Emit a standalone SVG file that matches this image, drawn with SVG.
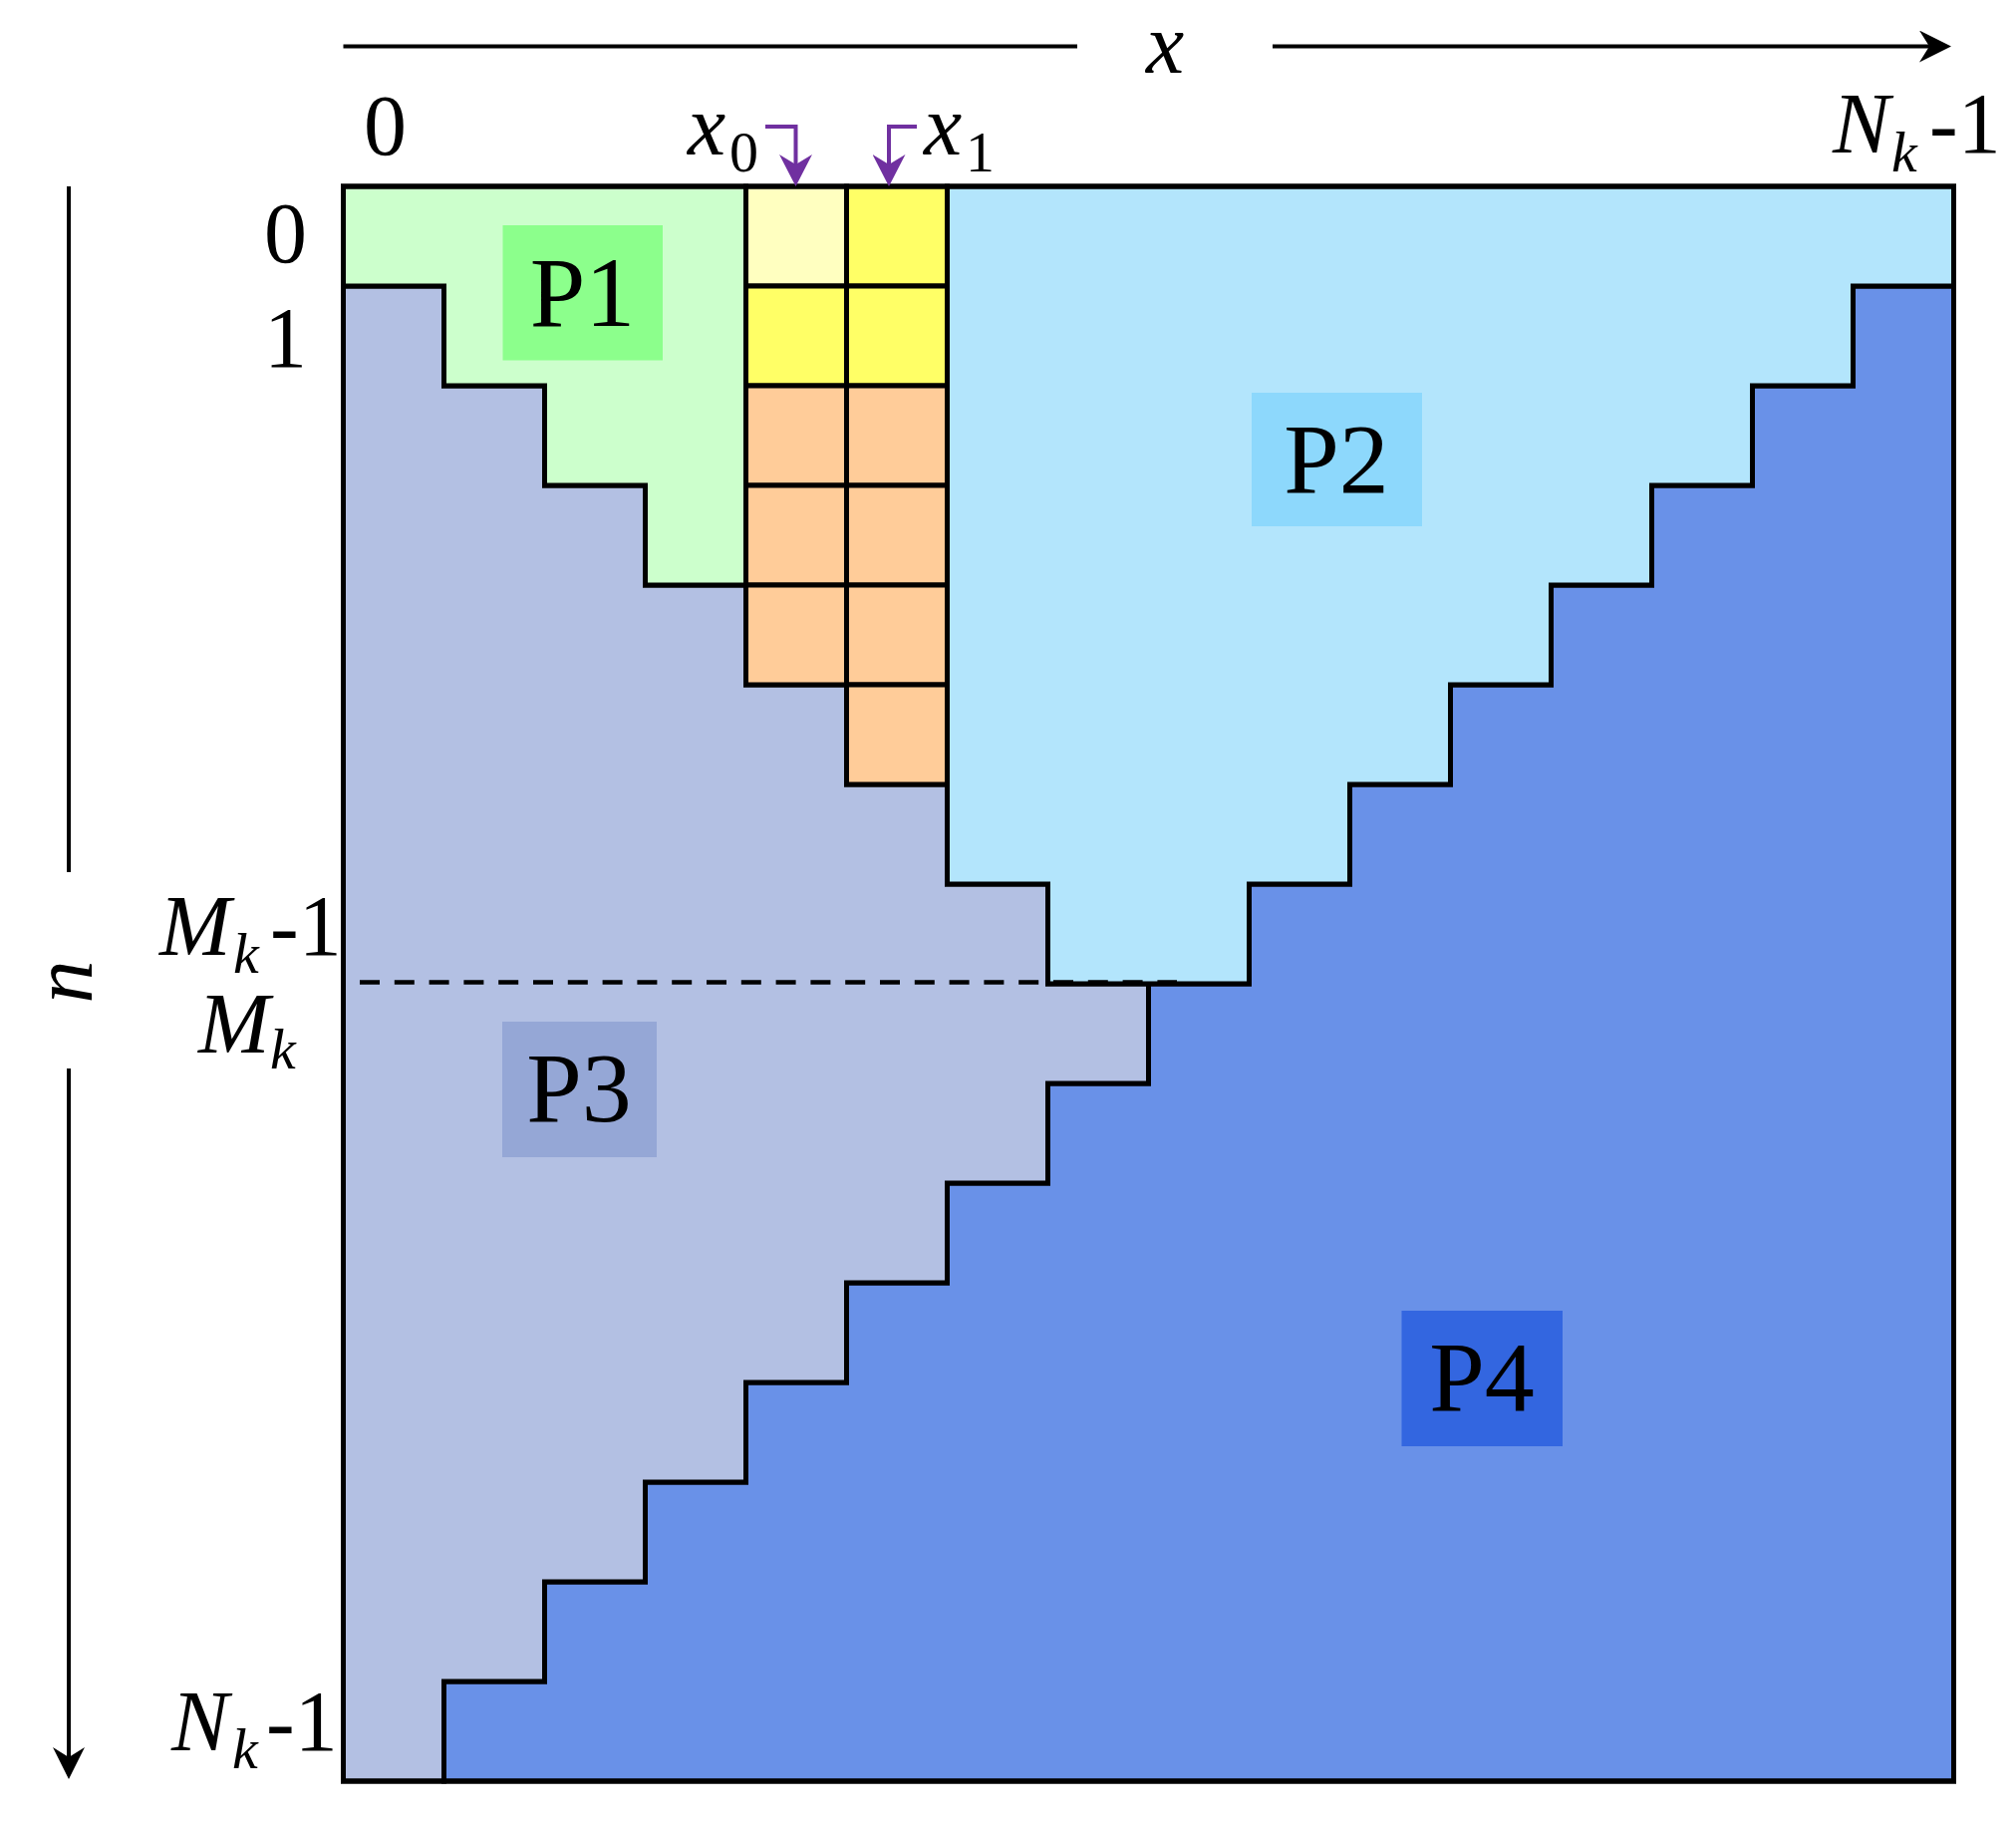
<svg xmlns="http://www.w3.org/2000/svg" width="2023" height="1833" viewBox="0 0 2023 1833">
<style>
.reg{stroke:#000;stroke-width:5;stroke-linejoin:miter}
.cell{stroke:#000;stroke-width:5}
.lbl{font-family:'Liberation Serif','DejaVu Serif',serif;font-size:100px;fill:#000;text-anchor:middle}
.m{font-family:'Liberation Serif','DejaVu Serif',serif;font-size:86px;fill:#000}
.it{font-style:italic}
.sub{font-size:58px}
.ax{stroke:#000;stroke-width:4;fill:none}
.pa{stroke:#7030A0;stroke-width:4;fill:none}
</style>
<defs>
<marker id="ahk" viewBox="0 0 32 32" refX="10" refY="16" markerWidth="32" markerHeight="32" markerUnits="userSpaceOnUse" orient="auto">
<path d="M0,0 L32,16 L0,32 L10,16 Z" fill="#000"/>
</marker>
<marker id="ahp" viewBox="0 0 32 33" refX="10" refY="16.5" markerWidth="32" markerHeight="33" markerUnits="userSpaceOnUse" orient="auto">
<path d="M0,0 L32,16.5 L0,33 L10,16.5 Z" fill="#7030A0"/>
</marker>
</defs>
<rect width="2023" height="1833" fill="#fff"/>

<g id="P4-region">
<path class="reg" fill="#6991E8" d="M1960.5,287 V1787 H445.5 V1687 H546.5 V1587 H647.5 V1487 H748.5 V1387 H849.5 V1287 H950.5 V1187 H1051.5 V1087 H1152.5 V987 H1253.5 V887 H1354.5 V787 H1455.5 V687 H1556.5 V587 H1657.5 V487 H1758.5 V387 H1859.5 V287 Z"/>
</g>
<g id="P3-region">
<path class="reg" fill="#B3C0E3" d="M344.5,287 H445.5 V387 H546.5 V487 H647.5 V587 H748.5 V687 H849.5 V787 H950.5 V887 H1051.5 V987 H1152.5 V1087 H1051.5 V1187 H950.5 V1287 H849.5 V1387 H748.5 V1487 H647.5 V1587 H546.5 V1687 H445.5 V1787 H344.5 Z"/>
</g>
<g id="P2-region">
<path class="reg" fill="#B3E5FC" d="M950.5,187 H1960.5 V287 H1859.5 V387 H1758.5 V487 H1657.5 V587 H1556.5 V687 H1455.5 V787 H1354.5 V887 H1253.5 V987 H1051.5 V887 H950.5 Z"/>
</g>
<g id="P1-region">
<path class="reg" fill="#CCFFCC" d="M344.5,187 H748.5 V587 H647.5 V487 H546.5 V387 H445.5 V287 H344.5 Z"/>
</g>
<g id="cells">
<rect class="cell" x="748.5" y="187" width="101" height="100" fill="#FFFFC0"/>
<rect class="cell" x="748.5" y="287" width="101" height="100" fill="#FFFF66"/>
<rect class="cell" x="748.5" y="387" width="101" height="100" fill="#FFCC99"/>
<rect class="cell" x="748.5" y="487" width="101" height="100" fill="#FFCC99"/>
<rect class="cell" x="748.5" y="587" width="101" height="100" fill="#FFCC99"/>
<rect class="cell" x="849.5" y="187" width="101" height="100" fill="#FFFF66"/>
<rect class="cell" x="849.5" y="287" width="101" height="100" fill="#FFFF66"/>
<rect class="cell" x="849.5" y="387" width="101" height="100" fill="#FFCC99"/>
<rect class="cell" x="849.5" y="487" width="101" height="100" fill="#FFCC99"/>
<rect class="cell" x="849.5" y="587" width="101" height="100" fill="#FFCC99"/>
<rect class="cell" x="849.5" y="687" width="101" height="100" fill="#FFCC99"/>
</g>
<rect x="344.5" y="187" width="1616" height="1600" fill="none" stroke="#000" stroke-width="5"/>

<g id="dashed">
<line x1="361" y1="985.5" x2="1181" y2="985.5" stroke="#000" stroke-width="4.5" stroke-dasharray="20 14.8"/>
</g>

<g id="P1">
<rect x="504.5" y="226" width="160.5" height="135.5" fill="#8CFF8C"/>
<text class="lbl" x="584.5" y="327" font-family="Liberation Serif, DejaVu Serif, serif">P1</text>
</g>
<g id="P2">
<rect x="1256" y="394" width="171" height="134" fill="#8DD8FC"/>
<text class="lbl" x="1341" y="494" font-family="Liberation Serif, DejaVu Serif, serif">P2</text>
</g>
<g id="P3">
<rect x="504" y="1025" width="155" height="136" fill="#95A7D6"/>
<text class="lbl" x="581" y="1125" font-family="Liberation Serif, DejaVu Serif, serif">P3</text>
</g>
<g id="P4">
<rect x="1406.5" y="1315" width="161.5" height="136" fill="#3366E0"/>
<text class="lbl" x="1487" y="1415" font-family="Liberation Serif, DejaVu Serif, serif">P4</text>
</g>

<g id="connectors">
<line class="ax" x1="344.5" y1="46.5" x2="1081" y2="46.5"/>
<line class="ax" x1="1277" y1="46.5" x2="1936" y2="46.5" marker-end="url(#ahk)"/>
<line class="ax" x1="69" y1="187" x2="69" y2="875"/>
<line class="ax" x1="69" y1="1072" x2="69" y2="1763" marker-end="url(#ahk)"/>
<path class="pa" d="M768,127 H798.5 V165" marker-end="url(#ahp)"/>
<path class="pa" d="M920,127 H892 V165" marker-end="url(#ahp)"/>
</g>

<g id="labels" font-family="Liberation Serif, DejaVu Serif, serif">
<text class="m it" x="1150" y="73" font-size="82">x</text>
<text class="m" x="365" y="155">0</text>
<text class="m"><tspan class="it" x="690" y="155">x</tspan><tspan class="sub" x="732" y="172">0</tspan></text>
<text class="m"><tspan class="it" x="927" y="155">x</tspan><tspan class="sub" x="969" y="172">1</tspan></text>
<text class="m"><tspan class="it" x="1839" y="153">N</tspan><tspan class="it sub" x="1898" y="172">k</tspan><tspan x="1936" y="153">-1</tspan></text>
<text class="m" x="265" y="263">0</text>
<text class="m" x="265" y="368">1</text>
<text class="m"><tspan class="it" x="160" y="958">M</tspan><tspan class="it sub" x="234" y="976">k</tspan><tspan x="271" y="958">-1</tspan></text>
<text class="m"><tspan class="it" x="199" y="1056">M</tspan><tspan class="it sub" x="271" y="1072">k</tspan></text>
<text class="m"><tspan class="it" x="172" y="1756">N</tspan><tspan class="it sub" x="233" y="1774">k</tspan><tspan x="267" y="1756">-1</tspan></text>
<text class="m it" text-anchor="middle" transform="translate(92,985) rotate(-90)">n</text>
</g>
</svg>
